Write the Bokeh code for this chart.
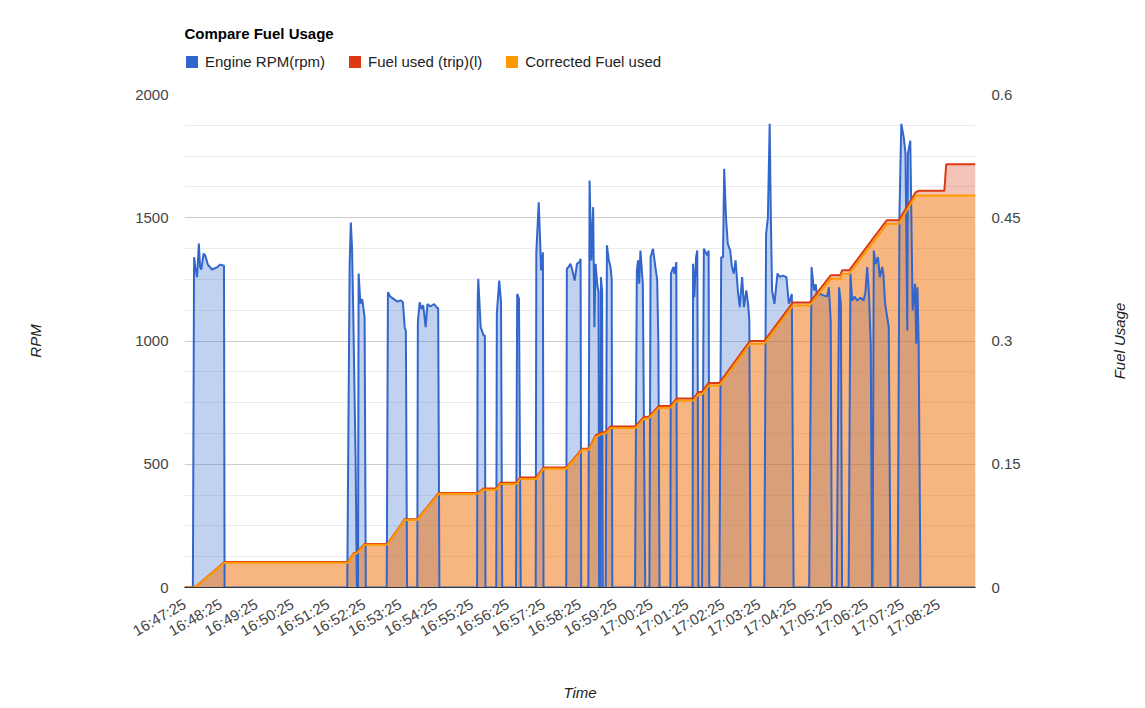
import math

from bokeh.embed import file_html
from bokeh.layouts import column, row
from bokeh.models import (FixedTicker, Legend, LegendItem, LinearAxis,
                          NumeralTickFormatter, Range1d, Title)
from bokeh.plotting import figure
from bokeh.resources import INLINE

# seconds elapsed since 16:47:25
RPM_T = [0, 14, 16, 18, 21, 24, 26, 28, 32, 35, 39, 46, 55, 60, 66, 67,
         272, 276, 278, 280, 282, 286, 288, 290, 291, 294, 297, 301, 303,
         338, 340, 344, 350, 356, 362, 365, 366, 368, 370, 372,
         389, 390, 393, 396, 399, 403, 406, 411, 417, 422, 424, 426,
         489, 490, 491, 495, 500, 502, 503,
         521, 522, 526, 529, 531,
         554, 556, 559, 562,
         587, 588, 592, 595, 596, 599, 600,
         638, 639, 642, 645, 648, 652, 656, 660, 662, 663,
         675, 677, 680, 683, 685, 687, 690, 692, 693, 695, 696, 698, 699,
         704, 706, 709, 712, 714, 715,
         753, 756, 758, 760, 762, 764, 766, 770, 777, 779, 783, 787, 790, 792, 794,
         812, 813, 817, 819, 822, 823,
         849, 850, 852, 855, 857, 859, 865, 868, 871, 874, 876, 877,
         894, 897, 900, 902, 905, 908, 912, 915, 918, 921, 925, 928, 932, 935,
         939, 942, 944, 946,
         969, 972, 975, 978, 980, 982, 986, 988, 991, 995, 1000, 1006, 1010,
         1015, 1018,
         1044, 1048, 1052, 1055, 1057, 1063, 1068, 1074, 1077, 1080, 1082,
         1090, 1094, 1097, 1099,
         1110, 1113, 1116, 1120, 1124, 1130, 1135, 1138, 1141, 1144, 1147, 1149,
         1150, 1152, 1155, 1159, 1162, 1166, 1168, 1171, 1177, 1180,
         1192, 1195, 1198, 1202, 1205, 1206, 1208, 1209, 1213, 1217, 1221, 1223,
         1225, 1227, 1230, 1322]
RPM = [0, 0, 1340, 1300, 1259, 1395, 1300, 1290, 1355, 1345, 1310, 1290, 1300, 1310, 1305, 0,
       0, 1314, 1481, 1380, 1124, 515, 0, 0, 1274, 1152, 1170, 1097, 0,
       0, 1198, 1180, 1170, 1160, 1165, 1157, 1124, 1056, 1040, 0,
       0, 1076, 1157, 1130, 1145, 1056, 1150, 1140, 1150, 1135, 1132, 0,
       0, 1157, 1252, 1056, 1022, 1022, 0,
       0, 1110, 1245, 1157, 0,
       0, 1191, 1172, 0,
       0, 1360, 1563, 1360, 1286, 1360, 0,
       0, 1293, 1300, 1313, 1290, 1245, 1313, 1320, 1333, 0,
       0, 1651, 1327, 1543, 1056, 1313, 1225, 1200, 0, 0, 1259, 1200, 0,
       0, 1388, 1330, 1300, 1250, 0,
       0, 1286, 1327, 1232, 1367, 1300, 1232, 0, 0, 1340, 1374, 1300, 1250, 989, 0,
       0, 1273, 1300, 1273, 1320, 0,
       0, 1313, 1178, 1340, 1367, 0, 0, 1374, 1360, 1347, 1367, 0,
       0, 1340, 1340, 1699, 1500, 1394, 1367, 1300, 1273, 1327, 1200, 1137, 1259, 1137,
       1205, 1150, 1083, 0,
       0, 1435, 1500, 1881, 1500, 1205, 1151, 1200, 1273, 1260, 1265, 1259, 1151,
       1191, 0,
       0, 1300, 1205, 1230, 1185, 1190, 1185, 1180, 1218, 1083, 0,
       0, 1218, 1150, 0,
       0, 1273, 1164, 1180, 1164, 1175, 1164, 1198, 1300, 1190, 975, 0,
       0, 1367, 1313, 1340, 1259, 1300, 1273, 1151, 1056, 0,
       0, 1530, 1881, 1827, 1760, 1530, 1043, 1760, 1813, 1124, 1232, 989,
       1218, 989, 0, 0]

FUEL_T = [0, 17, 67, 273, 283, 287, 301, 339, 368, 389,
          425, 489, 500, 521, 528, 555, 561, 588, 600, 638,
          665, 676, 687, 698, 703, 712, 754, 767, 776, 793,
          812, 823, 851, 859, 865, 876, 894, 945, 969, 1017,
          1045, 1080, 1096, 1099, 1111, 1149, 1174, 1194, 1222, 1228,
          1270, 1273, 1322]
FUEL_TRIP = [0, 0, 0.031, 0.031, 0.042, 0.042, 0.053, 0.053, 0.083, 0.083,
             0.115, 0.115, 0.1205, 0.1205, 0.1275, 0.1275, 0.134, 0.134, 0.146, 0.146,
             0.169, 0.169, 0.185, 0.189, 0.189, 0.196, 0.196, 0.207, 0.208, 0.221,
             0.221, 0.230, 0.230, 0.238, 0.238, 0.249, 0.249, 0.300, 0.300, 0.347,
             0.347, 0.380, 0.380, 0.386, 0.386, 0.423, 0.447, 0.447, 0.481, 0.483,
             0.483, 0.515, 0.515]
FUEL_CORR = [0, 0, 0.030, 0.030, 0.041, 0.041, 0.052, 0.052, 0.082, 0.082,
             0.114, 0.114, 0.119, 0.119, 0.126, 0.126, 0.132, 0.132, 0.1445, 0.1445,
             0.1676, 0.1676, 0.183, 0.187, 0.187, 0.194, 0.194, 0.205, 0.206, 0.2187,
             0.2187, 0.2276, 0.2276, 0.235, 0.235, 0.2458, 0.2458, 0.2966, 0.2966, 0.3432,
             0.3432, 0.3757, 0.3757, 0.3818, 0.3818, 0.4183, 0.4426, 0.4426, 0.477, 0.477,
             0.477, 0.477, 0.477]

TIME_LABELS = ["16:47:25", "16:48:25", "16:49:25", "16:50:25", "16:51:25", "16:52:25",
               "16:53:25", "16:54:25", "16:55:25", "16:56:25", "16:57:25", "16:58:25",
               "16:59:25", "17:00:25", "17:01:25", "17:02:25", "17:03:25", "17:04:25",
               "17:05:25", "17:06:25", "17:07:25", "17:08:25"]
RPM_TICKS = [0, 500, 1000, 1500, 2000]
FUEL_TICKS = [0, 0.15, 0.3, 0.45, 0.6]

BLUE = "#3366CC"
RED = "#DC3912"
ORANGE = "#FF9900"
FONT = "Liberation Sans"

# --- header: title + legend --------------------------------------------------
head = figure(width=1145, height=80, output_backend="svg", toolbar_location=None,
              x_range=Range1d(0, 1), y_range=Range1d(0, 1),
              x_axis_type=None, y_axis_type=None,
              min_border_left=184, min_border_right=170,
              min_border_top=41, min_border_bottom=0)
head.outline_line_color = None
head.grid.visible = False
head.title.text = "Compare Fuel Usage"
head.title.align = "left"
head.title.offset = 0
head.title.standoff = 0
head.title.text_font = FONT
head.title.text_font_size = "15px"
head.title.text_font_style = "bold"
head.title.text_color = "#000000"

# zero-size areas, only there to give the legend its solid swatches
sw_blue = head.varea(x=[0, 0], y1=[0, 0], y2=[0, 0], fill_color=BLUE)
sw_red = head.varea(x=[0, 0], y1=[0, 0], y2=[0, 0], fill_color=RED)
sw_orange = head.varea(x=[0, 0], y1=[0, 0], y2=[0, 0], fill_color=ORANGE)

legend = Legend(items=[LegendItem(label="Engine RPM(rpm)", renderers=[sw_blue]),
                       LegendItem(label="Fuel used (trip)(l)", renderers=[sw_red]),
                       LegendItem(label="Corrected Fuel used", renderers=[sw_orange])],
                orientation="horizontal", location=(0, 10), margin=0, padding=0,
                spacing=22, glyph_width=15, glyph_height=15, label_standoff=6,
                label_text_font=FONT, label_text_font_size="15px",
                label_text_color="#222222", border_line_color=None,
                background_fill_alpha=0)
head.add_layout(legend)

# --- main chart --------------------------------------------------------------
p = figure(width=1105, height=628, output_backend="svg", toolbar_location=None,
           x_range=Range1d(0, 1322), y_range=Range1d(0, 2000),
           min_border_left=184, min_border_right=130,
           min_border_top=14, min_border_bottom=121)
p.extra_y_ranges = {"fuel": Range1d(0, 0.6)}
p.outline_line_color = None
p.xgrid.visible = False

# areas first, then the lines on top (like google charts)
p.varea(x=RPM_T, y1=0, y2=RPM, fill_color=BLUE, fill_alpha=0.3)
p.varea(x=FUEL_T, y1=0, y2=FUEL_TRIP, fill_color=RED, fill_alpha=0.3, y_range_name="fuel")
p.varea(x=FUEL_T, y1=0, y2=FUEL_CORR, fill_color=ORANGE, fill_alpha=0.3, y_range_name="fuel")
p.line(RPM_T, RPM, line_color=BLUE, line_width=2)
p.line(FUEL_T, FUEL_TRIP, line_color=RED, line_width=2, y_range_name="fuel")
p.line(FUEL_T, FUEL_CORR, line_color=ORANGE, line_width=2, y_range_name="fuel")

minor = [v for v in range(0, 2001, 125) if v % 500]
p.yaxis.ticker = FixedTicker(ticks=RPM_TICKS, minor_ticks=minor)
p.ygrid.grid_line_color = "#cccccc"
p.ygrid.minor_grid_line_color = "#ebebeb"

right = LinearAxis(y_range_name="fuel", ticker=FixedTicker(ticks=FUEL_TICKS),
                   formatter=NumeralTickFormatter(format="0.[00]"))
p.add_layout(right, "right")

tick_secs = [60 * i for i in range(len(TIME_LABELS))]
p.xaxis.ticker = FixedTicker(ticks=tick_secs)
p.xaxis.major_label_overrides = dict(zip(tick_secs, TIME_LABELS))
p.xaxis.major_label_orientation = math.pi / 6
p.xaxis.axis_label = "Time"
p.xaxis.axis_label_standoff = 35
p.xaxis.axis_line_color = "#333333"
p.yaxis[0].axis_label = "RPM"

for ax in p.xaxis + p.yaxis:
    ax.major_tick_line_color = None
    ax.minor_tick_line_color = None
    ax.major_tick_out = 0
    ax.major_tick_in = 0
    ax.minor_tick_out = 0
    ax.minor_tick_in = 0
    ax.major_label_text_font = FONT
    ax.major_label_text_font_size = "15px"
    ax.major_label_text_color = "#444444"
    ax.axis_label_text_font = FONT
    ax.axis_label_text_font_size = "15px"
    ax.axis_label_text_font_style = "italic"
    ax.axis_label_text_color = "#222222"
for ax in p.yaxis:
    ax.axis_line_color = None
    ax.major_label_standoff = 16
p.yaxis[0].axis_label_standoff = 88
p.xaxis.major_label_standoff = 15

# --- right strip holding the "Fuel Usage" axis title (reads bottom to top) ---
side = figure(width=40, height=628, output_backend="svg", toolbar_location=None,
              x_range=Range1d(0, 1), y_range=Range1d(0, 1),
              x_axis_type=None, y_axis_type=None, title=None,
              min_border_left=22, min_border_right=0,
              min_border_top=14, min_border_bottom=121)
side.outline_line_color = None
side.grid.visible = False
side.add_layout(Title(text="Fuel Usage", align="center", standoff=0,
                      text_font=FONT, text_font_size="15px",
                      text_font_style="italic", text_color="#222222"), "left")

page = column(head, row(p, side, spacing=0), spacing=0)
open("out.html", "w").write(file_html(page, INLINE))
